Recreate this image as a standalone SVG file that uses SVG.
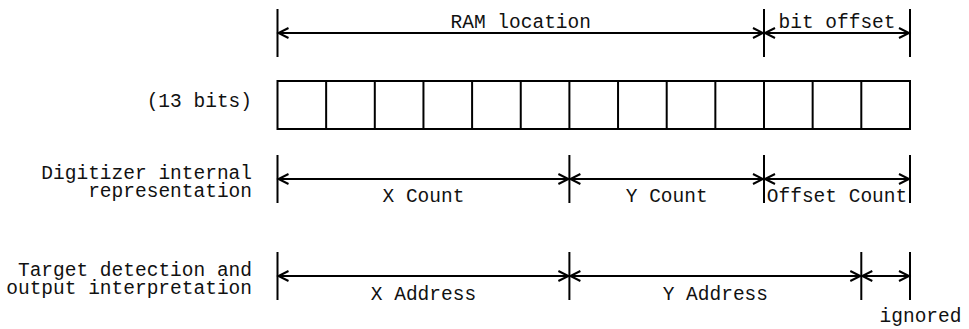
<svg xmlns="http://www.w3.org/2000/svg" width="969" height="329" viewBox="0 0 969 329">
  <defs>
    <marker id="arrow" markerUnits="userSpaceOnUse" markerWidth="14" markerHeight="14" refX="11" refY="6" orient="auto-start-reverse">
      <path d="M1,1 L11,6 L1,11" fill="none" stroke="#000" stroke-width="2"/>
    </marker>
  </defs>
  <style>
    text { font-family: "Liberation Mono", "Courier New", monospace; font-size: 19.5px; fill: #111; }
    .mid { text-anchor: middle; }
    .end { text-anchor: end; }
    .tick { stroke: #000; stroke-width: 2; }
    .dim { stroke: #000; stroke-width: 2; marker-start: url(#arrow); marker-end: url(#arrow); }
    .cell { fill: #fff; stroke: #000; stroke-width: 2; }
  </style>

  <!-- row labels -->
  <g id="label-bits">
    <text class="end" x="252" y="107">(13 bits)</text>
  </g>
  <g id="label-digitizer">
    <text class="end" x="252" y="179">Digitizer internal</text>
    <text class="end" x="252" y="197">representation</text>
  </g>
  <g id="label-target">
    <text class="end" x="252" y="276">Target detection and</text>
    <text class="end" x="252" y="294">output interpretation</text>
  </g>

  <!-- 13-bit register -->
  <g id="register">
    <rect class="cell" x="277.5" y="81" width="632.5" height="48"/>
    <path class="tick" d="M326.15,81V129 M374.8,81V129 M423.45,81V129 M472.1,81V129 M520.75,81V129 M569.4,81V129 M618.05,81V129 M666.7,81V129 M715.35,81V129 M764,81V129 M812.65,81V129 M861.3,81V129"/>
  </g>

  <!-- extension ticks -->
  <g id="ticks">
    <path class="tick" d="M277.5,9V57 M764,9V57 M910,9V57"/>
    <path class="tick" d="M277.5,155V203 M569.4,155V203 M764,155V203 M910,155V203"/>
    <path class="tick" d="M277.5,252V300 M569.4,252V300 M861.3,252V300 M910,252V300"/>
  </g>

  <!-- dimension arrows -->
  <g id="connectors">
    <line class="dim" x1="278.5" y1="33" x2="763" y2="33"/>
    <line class="dim" x1="765" y1="33" x2="909" y2="33"/>
    <line class="dim" x1="278.5" y1="179" x2="568.4" y2="179"/>
    <line class="dim" x1="570.4" y1="179" x2="763" y2="179"/>
    <line class="dim" x1="765" y1="179" x2="909" y2="179"/>
    <line class="dim" x1="278.5" y1="276" x2="568.4" y2="276"/>
    <line class="dim" x1="570.4" y1="276" x2="860.3" y2="276"/>
    <line class="dim" x1="862.3" y1="276" x2="909" y2="276"/>
  </g>

  <!-- field names -->
  <g id="field-ram">
    <text class="mid" x="520.75" y="28">RAM location</text>
  </g>
  <g id="field-bit-offset">
    <text class="mid" x="837" y="28">bit offset</text>
  </g>
  <g id="field-x-count">
    <text class="mid" x="423.45" y="202">X Count</text>
  </g>
  <g id="field-y-count">
    <text class="mid" x="666.7" y="202">Y Count</text>
  </g>
  <g id="field-offset-count">
    <text class="mid" x="837" y="202">Offset Count</text>
  </g>
  <g id="field-x-address">
    <text class="mid" x="423.45" y="300">X Address</text>
  </g>
  <g id="field-y-address">
    <text class="mid" x="715.35" y="300">Y Address</text>
  </g>
  <g id="field-ignored">
    <text class="mid" x="920.5" y="322">ignored</text>
  </g>
</svg>
